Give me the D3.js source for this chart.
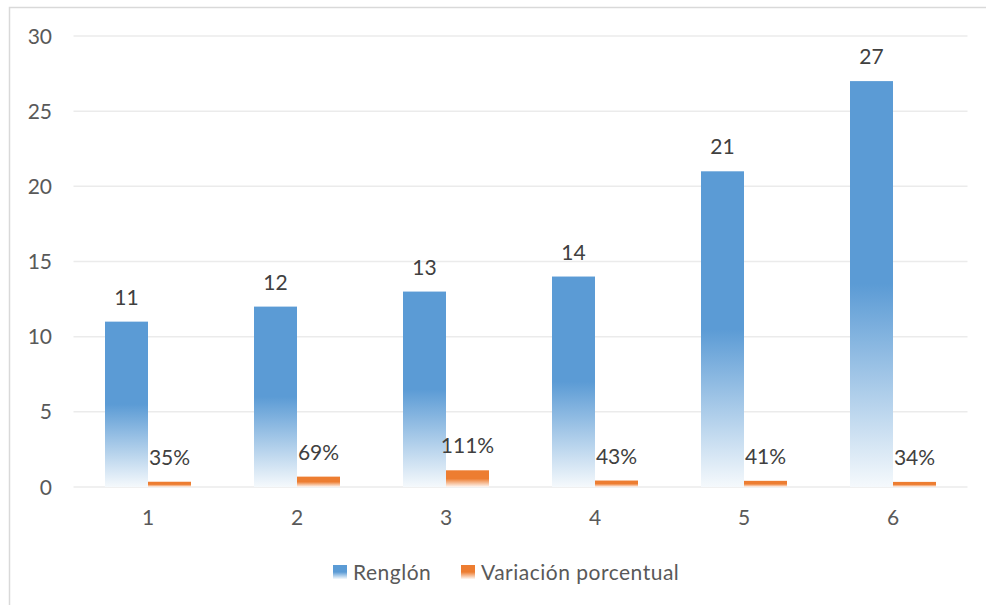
<!DOCTYPE html>
<html>
<head>
<meta charset="utf-8">
<script src="https://cdn.jsdelivr.net/npm/d3@7"></script>
<style>
  body { margin: 0; background: #fff; }
  svg { display: block; font-family: Lato, "Open Sans", sans-serif; }
</style>
</head>
<body>
<svg width="986" height="605"></svg>
<script>
const categories = ["1", "2", "3", "4", "5", "6"];
const renglon = [11, 12, 13, 14, 21, 27];
const variacion = [0.35, 0.69, 1.11, 0.43, 0.41, 0.34];
const yTicks = [0, 5, 10, 15, 20, 25, 30];
const seriesNames = ["Renglón", "Variación porcentual"];

const colors = { "Renglón": "#5B9BD5", "Variación porcentual": "#ED7D31" };

const svg = d3.select("svg");
const width = +svg.attr("width");
const height = +svg.attr("height");
const margin = { top: 36, left: 73.5, right: width - 967.5, bottom: height - 487 };
const fontSize = 21;

// outer chart border
svg.append("rect")
  .attr("x", 9.5).attr("y", 7.5)
  .attr("width", 1000).attr("height", 1000)
  .attr("fill", "none")
  .attr("stroke", "#d9d9d9")
  .attr("stroke-width", 1.5);

// gradients, one per series
const defs = svg.append("defs");
seriesNames.forEach((s, i) => {
  const g = defs.append("linearGradient")
    .attr("id", "grad" + i)
    .attr("x1", 0).attr("y1", 0).attr("x2", 0).attr("y2", 1);
  const c = d3.color(colors[s]);
  g.append("stop").attr("offset", "0%").attr("stop-color", c);
  g.append("stop").attr("offset", "50%").attr("stop-color", c);
  g.append("stop").attr("offset", "100%").attr("stop-color", d3.interpolateRgb(c, "#fff")(0.94));
});

const x = d3.scaleBand()
  .domain(categories)
  .range([margin.left, width - margin.right])
  .paddingInner(63 / 149)
  .paddingOuter(63 / 149 / 2);

const x1 = d3.scaleBand()
  .domain(seriesNames)
  .range([0, x.bandwidth()]);

const y = d3.scaleLinear()
  .domain([0, 30])
  .range([height - margin.bottom, margin.top]);

// gridlines
svg.append("g")
  .selectAll("line")
  .data(yTicks)
  .join("line")
  .attr("x1", margin.left)
  .attr("x2", width - margin.right)
  .attr("y1", d => y(d))
  .attr("y2", d => y(d))
  .attr("stroke", "#ebebeb")
  .attr("stroke-width", 1.5);

// y tick labels
svg.append("g")
  .attr("font-size", fontSize)
  .attr("fill", "#595959")
  .attr("text-anchor", "end")
  .selectAll("text")
  .data(yTicks)
  .join("text")
  .attr("x", 52)
  .attr("y", d => y(d))
  .attr("dy", "0.36em")
  .text(d => d);

// x tick labels
svg.append("g")
  .attr("font-size", fontSize)
  .attr("fill", "#595959")
  .attr("text-anchor", "middle")
  .selectAll("text")
  .data(categories)
  .join("text")
  .attr("x", d => x(d) + x.bandwidth() / 2)
  .attr("y", 525)
  .text(d => d);

const rows = categories.map((c, i) => ({
  cat: c,
  values: [
    { key: seriesNames[0], value: renglon[i], label: String(renglon[i]) },
    { key: seriesNames[1], value: variacion[i], label: Math.round(variacion[i] * 100) + "%" }
  ]
}));

const group = svg.append("g")
  .selectAll("g")
  .data(rows)
  .join("g")
  .attr("transform", d => `translate(${x(d.cat)},0)`);

group.selectAll("rect")
  .data(d => d.values)
  .join("rect")
  .attr("x", d => x1(d.key))
  .attr("width", x1.bandwidth())
  .attr("y", d => y(d.value))
  .attr("height", d => y(0) - y(d.value))
  .attr("fill", d => `url(#grad${seriesNames.indexOf(d.key)})`);

group.selectAll("text")
  .data(d => d.values)
  .join("text")
  .attr("x", d => x1(d.key) + x1.bandwidth() / 2)
  .attr("y", d => y(d.value) - 17)
  .attr("text-anchor", "middle")
  .attr("font-size", fontSize)
  .attr("fill", "#404040")
  .text(d => d.label);

// legend
const legendPos = [333, 461];
const legend = svg.append("g")
  .selectAll("g")
  .data(seriesNames)
  .join("g")
  .attr("transform", (d, i) => `translate(${legendPos[i]},565)`);

legend.append("rect")
  .attr("width", 14)
  .attr("height", 14)
  .attr("fill", (d, i) => `url(#grad${i})`);

legend.append("text")
  .attr("x", 20)
  .attr("y", 14.5)
  .attr("font-size", fontSize)
  .attr("letter-spacing", 0.5)
  .attr("fill", "#595959")
  .text(d => d);
</script>
</body>
</html>
